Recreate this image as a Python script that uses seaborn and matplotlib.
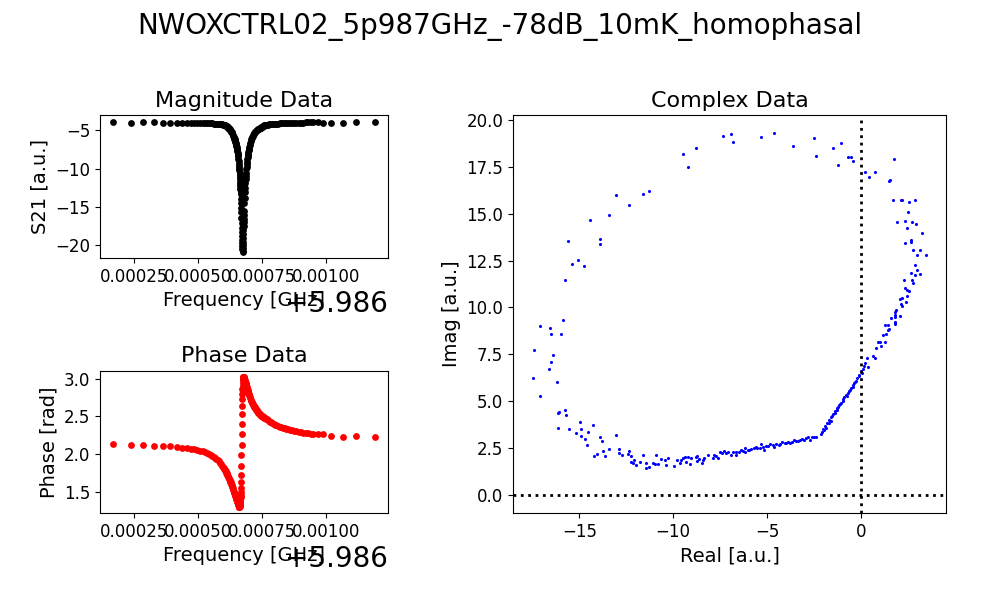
import numpy as np
import matplotlib
matplotlib.use('Agg')
import matplotlib.pyplot as plt
import seaborn as sns
import pandas as pd

title = 'NWOXCTRL02_5p987GHz_-78dB_10mK_homophasal'
f_base = 5.986  # GHz

# sweep rows: (frequency offset from 5.986 GHz in kHz, S21 magnitude, phase in rad)
left_wing = [(169, -3.92, 2.137), (237, -4.05, 2.12), (286, -3.92, 2.12), (328, -3.87, 2.105),
             (364, -4.00, 2.11), (391, -3.98, 2.10), (417, -4.00, 2.09), (437, -4.01, 2.085),
             (456, -4.01, 2.08), (472, -4.02, 2.07), (486, -4.02, 2.065), (498, -4.03, 2.055),
             (509, -4.04, 2.045), (519, -4.05, 2.035), (528, -4.06, 2.025), (536, -4.07, 2.015),
             (543, -4.08, 2.00), (550, -4.09, 1.99), (556, -4.10, 1.975), (562, -4.11, 1.96),
             (567, -4.12, 1.945), (572, -4.14, 1.93), (577, -4.15, 1.915), (582, -4.17, 1.90),
             (586, -4.19, 1.88), (590, -4.20, 1.86), (594, -4.22, 1.845), (597, -4.24, 1.83)]

dip_left = [(600, -4.25, 1.81), (602, -4.28, 1.80), (604, -4.31, 1.79), (606, -4.35, 1.78),
            (608, -4.39, 1.77), (610, -4.43, 1.75), (612, -4.48, 1.74), (614, -4.53, 1.72),
            (616, -4.59, 1.71), (618, -4.65, 1.69), (620, -4.72, 1.68), (622, -4.80, 1.66),
            (624, -4.88, 1.65), (626, -4.96, 1.63), (628, -5.05, 1.62), (630, -5.15, 1.60),
            (632, -5.27, 1.58), (634, -5.40, 1.56), (636, -5.55, 1.54), (638, -5.71, 1.52),
            (640, -5.88, 1.50), (641, -5.97, 1.49), (642, -6.07, 1.48), (643, -6.17, 1.47),
            (644, -6.28, 1.46), (645, -6.39, 1.45), (646, -6.50, 1.44), (647, -6.62, 1.43),
            (648, -6.75, 1.42), (649, -6.89, 1.41), (650, -7.04, 1.40), (651, -7.20, 1.39),
            (652, -7.37, 1.38), (653, -7.55, 1.37), (654, -7.74, 1.36), (655, -7.94, 1.35),
            (656, -8.15, 1.34), (657, -8.40, 1.33), (658, -8.70, 1.32), (659, -9.05, 1.31),
            (660, -9.45, 1.30)]

dip_core = [(660.5, -9.70, 1.30), (661, -9.95, 1.30), (661.5, -10.2, 1.30), (662, -10.5, 1.31),
            (662.5, -10.8, 1.31), (663, -11.1, 1.32), (663.5, -11.4, 1.33), (664, -11.7, 1.34),
            (664.5, -12.0, 1.36), (665, -12.3, 1.38), (665.5, -12.6, 1.40), (666, -12.8, 1.43),
            (666.5, -13.0, 1.46), (667, -13.3, 1.50), (667.5, -13.9, 1.55), (668, -14.5, 1.62),
            (668.5, -15.1, 1.72), (669, -15.7, 1.84), (669.5, -16.4, 1.98), (670, -17.1, 2.12),
            (670.5, -17.7, 2.26), (671, -18.3, 2.40), (671.5, -18.8, 2.53), (672, -19.3, 2.64),
            (672.5, -19.7, 2.73), (673, -20.1, 2.80), (673.5, -20.5, 2.86), (674, -20.8, 2.91),
            (674.5, -20.7, 2.95), (675, -20.4, 2.98), (675.5, -20.0, 3.00), (676, -19.5, 3.01),
            (676.5, -19.0, 3.02), (677, -18.5, 3.02), (677.5, -18.0, 3.02), (678, -17.5, 3.02),
            (678.5, -17.0, 3.02), (679, -16.5, 3.01), (679.5, -16.0, 3.01), (680, -15.5, 3.00)]

dip_right = [(681, -14.5, 2.99), (682, -13.8, 2.98), (683, -13.1, 2.97), (684, -12.5, 2.96),
             (685, -11.9, 2.95), (686, -11.4, 2.94), (687, -10.9, 2.93), (688, -10.5, 2.92),
             (689, -10.1, 2.91), (690, -9.75, 2.89), (691, -9.40, 2.88), (692, -9.10, 2.87),
             (693, -8.80, 2.86), (694, -8.52, 2.85), (695, -8.26, 2.83), (696, -8.02, 2.82),
             (697, -7.80, 2.81), (698, -7.59, 2.80), (699, -7.40, 2.79), (700, -7.22, 2.78),
             (702, -6.90, 2.76), (704, -6.62, 2.74), (706, -6.38, 2.72), (708, -6.17, 2.71),
             (710, -5.98, 2.69), (712, -5.82, 2.68), (714, -5.68, 2.66), (716, -5.56, 2.65),
             (718, -5.45, 2.64), (720, -5.35, 2.63), (722, -5.26, 2.62), (724, -5.18, 2.61),
             (726, -5.10, 2.60), (728, -5.03, 2.59), (730, -4.97, 2.58), (732, -4.91, 2.57),
             (734, -4.86, 2.56), (736, -4.81, 2.55), (738, -4.76, 2.54), (740, -4.72, 2.53),
             (742, -4.68, 2.52), (744, -4.64, 2.515), (746, -4.60, 2.51), (748, -4.56, 2.505),
             (750, -4.52, 2.50), (752, -4.48, 2.495), (754, -4.44, 2.49), (756, -4.40, 2.485),
             (758, -4.36, 2.48), (760, -4.32, 2.475)]

right_wing = [(764, -4.29, 2.47), (768, -4.26, 2.46), (772, -4.24, 2.45), (776, -4.22, 2.44),
              (780, -4.20, 2.43), (785, -4.18, 2.42), (790, -4.16, 2.41), (795, -4.14, 2.40),
              (800, -4.13, 2.39), (806, -4.12, 2.38), (812, -4.11, 2.37), (818, -4.10, 2.36),
              (824, -4.09, 2.355), (831, -4.08, 2.35), (838, -4.07, 2.34), (845, -4.06, 2.33),
              (852, -4.05, 2.325), (860, -4.04, 2.32), (868, -4.03, 2.315), (876, -4.02, 2.31),
              (884, -4.01, 2.30), (893, -4.00, 2.295), (902, -3.99, 2.29), (911, -3.98, 2.285),
              (920, -3.97, 2.28), (930, -3.96, 2.275), (940, -3.95, 2.27), (947, -3.94, 2.265),
              (967, -3.87, 2.26), (986, -3.98, 2.27), (1017, -4.05, 2.24), (1064, -4.00, 2.23),
              (1118, -3.92, 2.24), (1190, -3.92, 2.23)]

# complex plane points (real, imag), grouped by region of the circle
upper_arc = [(-17.07, 9.01), (-16.54, 8.89), (-15.85, 9.33), (-15.78, 11.45), (-15.62, 13.53),
             (-15.36, 12.30), (-15.09, 12.52), (-14.77, 12.20), (-14.45, 14.65), (-13.92, 13.64),
             (-13.92, 13.37), (-13.44, 14.91), (-13.02, 15.98), (-12.37, 15.45), (-11.58, 16.04),
             (-11.26, 16.19), (-9.50, 18.17), (-9.19, 17.48), (-8.76, 18.49), (-7.32, 19.13),
             (-6.90, 19.24), (-6.79, 18.81), (-5.30, 19.08), (-4.61, 19.29), (-3.60, 18.60),
             (-2.48, 19.02), (-2.38, 18.06), (-1.47, 18.49), (-1.21, 17.58), (-1.05, 18.76),
             (-0.68, 18.01), (-0.51, 18.01), (-0.41, 17.80), (0.23, 17.21), (0.44, 16.94),
             (0.76, 17.21), (1.51, 16.73), (1.56, 16.78), (1.77, 17.90), (1.72, 15.72),
             (2.15, 15.72), (2.20, 15.72), (2.57, 15.61), (2.89, 15.72), (2.52, 15.08),
             (1.94, 14.54), (2.36, 14.59), (2.47, 14.22), (2.73, 14.54), (2.94, 14.44),
             (3.26, 13.96), (2.36, 13.42), (2.68, 13.58), (2.68, 13.48), (2.79, 13.05),
             (3.16, 13.05), (3.00, 12.78), (3.48, 12.78), (2.89, 12.25), (3.00, 11.98),
             (2.68, 11.82), (2.89, 11.72), (3.16, 11.77), (2.30, 11.45), (2.73, 11.45),
             (2.79, 11.29), (2.36, 11.02), (2.47, 10.92), (2.57, 10.86), (2.47, 10.60),
             (2.09, 10.44), (2.20, 10.49), (2.41, 10.28), (2.15, 10.17), (2.20, 10.06),
             (1.88, 9.85), (1.83, 9.74), (1.61, 9.42), (2.09, 9.53), (1.83, 9.47),
             (1.83, 9.21), (1.29, 9.05), (1.45, 9.05), (1.83, 9.10), (1.51, 8.85)]

left_side = [(-17.43, 7.72), (-17.48, 6.22), (-16.52, 8.57), (-15.99, 8.57), (-17.11, 5.26),
             (-16.63, 6.70), (-16.52, 7.08), (-16.42, 7.45), (-16.20, 6.01), (-16.15, 3.56),
             (-16.15, 4.36), (-16.10, 4.41), (-15.78, 4.52), (-15.68, 4.25), (-15.56, 3.50),
             (-15.20, 3.29), (-14.98, 3.88), (-14.93, 3.50), (-14.93, 3.13), (-14.67, 2.97),
             (-14.61, 2.65), (-14.56, 3.34), (-14.29, 3.72), (-14.24, 2.06), (-14.08, 2.17),
             (-13.87, 3.08), (-13.81, 2.86), (-13.71, 2.33), (-13.65, 2.06), (-13.44, 2.43),
             (-13.02, 3.18), (-12.91, 2.43), (-12.86, 2.22), (-12.70, 2.11), (-12.43, 2.17),
             (-12.37, 2.33), (-12.27, 2.06), (-12.27, 1.74), (-12.16, 1.69), (-12.06, 1.85),
             (-12.00, 1.58), (-11.79, 1.74), (-11.63, 2.11), (-11.42, 1.69), (-11.42, 1.42),
             (-11.26, 1.47), (-11.10, 1.69), (-10.99, 1.64), (-10.89, 2.11), (-10.83, 1.64),
             (-10.67, 1.90), (-10.46, 1.85), (-10.36, 1.58), (-10.30, 1.96)]

bottom_band = [(-9.93, 1.53), (-9.82, 1.85), (-9.66, 1.69), (-9.56, 1.85), (-9.45, 1.96),
               (-9.35, 2.01), (-9.29, 1.74), (-9.19, 2.01), (-9.08, 1.64), (-9.03, 1.96),
               (-8.81, 2.01), (-8.71, 2.06), (-8.71, 1.80), (-8.60, 1.90), (-8.49, 1.69),
               (-8.39, 1.85), (-8.34, 1.96), (-8.12, 2.11), (-7.86, 1.96), (-7.80, 2.11),
               (-7.70, 2.06), (-7.59, 1.96), (-7.48, 2.28), (-7.38, 2.22), (-7.27, 2.33),
               (-7.16, 2.22), (-7.06, 2.28), (-6.90, 2.11), (-6.84, 2.28), (-6.68, 2.28),
               (-6.63, 2.11), (-6.52, 2.28), (-6.41, 2.38), (-6.30, 2.33), (-6.20, 2.28),
               (-6.15, 2.49), (-6.04, 2.38), (-5.94, 2.38), (-5.83, 2.43), (-5.72, 2.49),
               (-5.61, 2.54), (-5.51, 2.49), (-5.40, 2.49), (-5.30, 2.70), (-5.19, 2.54),
               (-5.14, 2.38), (-5.04, 2.59), (-4.93, 2.59), (-4.82, 2.70), (-4.71, 2.65),
               (-4.61, 2.54), (-4.50, 2.70), (-4.39, 2.65), (-4.29, 2.70), (-4.18, 2.81),
               (-4.07, 2.75), (-3.97, 2.75), (-3.86, 2.81), (-3.76, 2.75), (-3.65, 2.81),
               (-3.54, 2.92), (-3.44, 2.86), (-3.33, 2.86), (-3.23, 2.92), (-3.12, 2.97),
               (-3.01, 2.92), (-2.91, 3.02), (-2.80, 3.08), (-2.69, 2.92), (-2.59, 3.08),
               (-2.48, 3.08), (-2.38, 3.08)]

rising = [(-2.15, 3.25), (-2.06, 3.34), (-2.00, 3.50), (-1.95, 3.45), (-1.89, 3.66), (-1.85, 3.55),
          (-1.79, 3.82), (-1.72, 3.85), (-1.68, 3.98), (-1.62, 3.95), (-1.58, 4.14), (-1.52, 4.22),
          (-1.47, 4.30), (-1.40, 4.35), (-1.37, 4.46), (-1.30, 4.52), (-1.26, 4.62), (-1.20, 4.70),
          (-1.15, 4.78), (-1.10, 4.85), (-1.05, 4.89), (-0.98, 5.02), (-0.95, 5.10), (-0.88, 5.21),
          (-0.80, 5.35), (-0.73, 5.26), (-0.68, 5.45), (-0.62, 5.53), (-0.58, 5.62), (-0.52, 5.69),
          (-0.45, 5.78), (-0.41, 5.85), (-0.35, 5.95), (-0.30, 6.01), (-0.25, 6.10), (-0.20, 6.22),
          (-0.12, 6.40), (-0.09, 6.33), (0.02, 6.60), (0.05, 6.50), (0.12, 6.70), (0.18, 6.85),
          (0.23, 7.02), (0.34, 7.29), (0.39, 6.81), (0.65, 7.40), (0.76, 7.29), (0.81, 7.82),
          (0.93, 8.14), (1.03, 8.14), (1.08, 7.93), (1.19, 8.52), (1.30, 8.14), (1.35, 8.57),
          (1.45, 8.78), (1.82, 9.60), (1.83, 9.17)]

# tables for seaborn
sweep = pd.DataFrame(left_wing + dip_left + dip_core + dip_right + right_wing,
                     columns=['khz', 'mag', 'phase'])
sweep['freq'] = f_base + sweep['khz'] * 1e-6  # kHz -> GHz
cplx = pd.DataFrame(upper_arc + left_side + bottom_band + rising, columns=['re', 'im'])

fig = plt.figure(figsize=(10, 6), dpi=100)
ax_mag = fig.add_axes([0.100, 0.570, 0.288, 0.238])
ax_ph = fig.add_axes([0.100, 0.145, 0.288, 0.237])
ax_c = fig.add_axes([0.513, 0.145, 0.433, 0.663])

sns.scatterplot(data=sweep, x='freq', y='mag', ax=ax_mag, color='black', s=24, linewidth=0)
sns.scatterplot(data=sweep, x='freq', y='phase', ax=ax_ph, color='red', s=24, linewidth=0)
sns.scatterplot(data=cplx, x='re', y='im', ax=ax_c, color='blue', s=5, linewidth=0)
ax_c.axhline(0, color='black', linestyle=':', linewidth=2)
ax_c.axvline(0, color='black', linestyle=':', linewidth=2)

ax_mag.set_title('Magnitude Data', fontsize=16)
ax_mag.set_xlabel('Frequency [GHz]', fontsize=14)
ax_mag.set_ylabel('S21 [a.u.]', fontsize=14)
ax_ph.set_title('Phase Data', fontsize=16)
ax_ph.set_xlabel('Frequency [GHz]', fontsize=14)
ax_ph.set_ylabel('Phase [rad]', fontsize=14)
ax_c.set_title('Complex Data', fontsize=16)
ax_c.set_xlabel('Real [a.u.]', fontsize=14)
ax_c.set_ylabel('Imag [a.u.]', fontsize=14)

for ax in (ax_mag, ax_ph, ax_c):
    ax.tick_params(labelsize=12)
for ax in (ax_mag, ax_ph):
    ax.xaxis.get_offset_text().set_fontsize(20)

fig.suptitle(title, fontsize=20)
fig.savefig('out.png', dpi=100)
